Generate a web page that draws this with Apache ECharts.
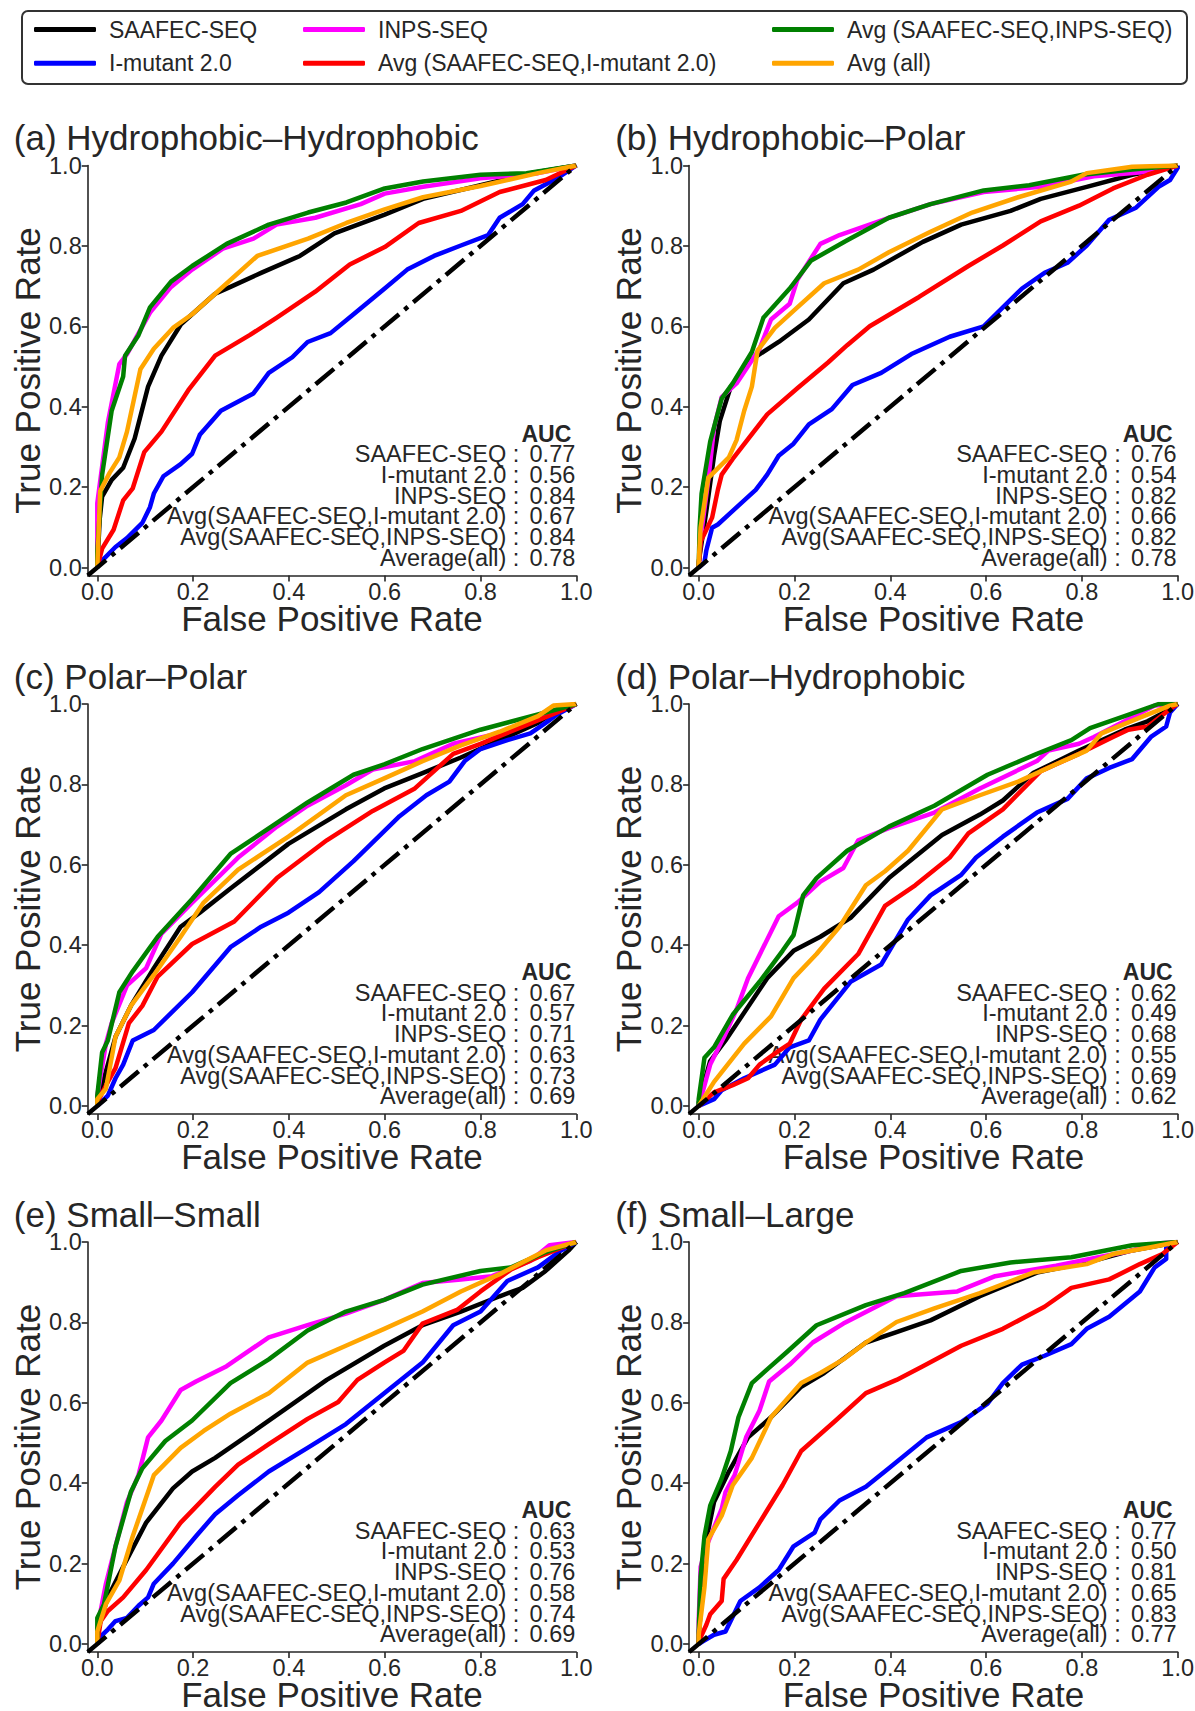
<!DOCTYPE html>
<html><head><meta charset="utf-8">
<script src="https://cdn.jsdelivr.net/npm/echarts@6/dist/echarts.min.js"></script>
<style>html,body{margin:0;padding:0;background:#fff}#c{width:1195px;height:1711px}</style>
</head><body><div id="c"></div>
<script>
// ---------- names / labels ----------
const seriesNames = ['SAAFEC-SEQ', 'I-mutant 2.0', 'INPS-SEQ', 'Avg (SAAFEC-SEQ,I-mutant 2.0)', 'Avg (SAAFEC-SEQ,INPS-SEQ)', 'Avg (all)'];
const seriesColors = ['#000000', '#0000ff', '#ff00ff', '#ff0000', '#008000', '#ffa500'];
const panelTitles = ['(a) Hydrophobic\u2013Hydrophobic', '(b) Hydrophobic\u2013Polar', '(c) Polar\u2013Polar', '(d) Polar\u2013Hydrophobic', '(e) Small\u2013Small', '(f) Small\u2013Large'];
const aucLabels = ['SAAFEC-SEQ', 'I-mutant 2.0', 'INPS-SEQ', 'Avg(SAAFEC-SEQ,I-mutant 2.0)', 'Avg(SAAFEC-SEQ,INPS-SEQ)', 'Average(all)'];
const aucA = ['0.77', '0.56', '0.84', '0.67', '0.84', '0.78'];
const aucB = ['0.76', '0.54', '0.82', '0.66', '0.82', '0.78'];
const aucC = ['0.67', '0.57', '0.71', '0.63', '0.73', '0.69'];
const aucD = ['0.62', '0.49', '0.68', '0.55', '0.69', '0.62'];
const aucE = ['0.63', '0.53', '0.76', '0.58', '0.74', '0.69'];
const aucF = ['0.77', '0.50', '0.81', '0.65', '0.83', '0.77'];
const tickValues = [0, 0.2, 0.4, 0.6, 0.8, 1.0];
const axisMin = -0.02, axisMax = 1.0;
const diagonal = [[-0.02, -0.02], [1, 1]];
const xAxisTitle = 'False Positive Rate';
const yAxisTitle = 'True Positive Rate';

// ---------- (a) Hydrophobic-Hydrophobic ----------
const a_saafec = [[0,0],[0.005,0.12],[0.01,0.176],[0.03,0.218],[0.054,0.248],[0.078,0.321],[0.106,0.45],[0.134,0.527],[0.174,0.604],[0.198,0.63],[0.246,0.681],[0.278,0.698],[0.342,0.733],[0.423,0.775],[0.495,0.831],[0.6,0.878],[0.68,0.917],[0.8,0.951],[0.904,0.981],[1,1]];
const a_imut = [[0,0],[0.01,0.017],[0.038,0.051],[0.062,0.073],[0.094,0.111],[0.11,0.15],[0.118,0.184],[0.138,0.227],[0.174,0.257],[0.198,0.283],[0.214,0.33],[0.258,0.39],[0.326,0.433],[0.358,0.484],[0.407,0.523],[0.439,0.561],[0.487,0.583],[0.535,0.63],[0.6,0.694],[0.647,0.741],[0.703,0.775],[0.759,0.801],[0.816,0.827],[0.84,0.87],[0.888,0.904],[0.912,0.938],[0.96,0.968],[1,1]];
const a_inps = [[0,0],[0,0.16],[0.022,0.36],[0.046,0.506],[0.062,0.531],[0.11,0.634],[0.154,0.698],[0.198,0.741],[0.262,0.793],[0.326,0.818],[0.374,0.853],[0.455,0.87],[0.55,0.904],[0.6,0.93],[0.68,0.947],[0.8,0.968],[0.92,0.981],[1,1]];
const a_avgSI = [[0,0],[0.01,0.047],[0.034,0.094],[0.054,0.167],[0.074,0.197],[0.098,0.287],[0.134,0.338],[0.19,0.441],[0.246,0.527],[0.318,0.578],[0.374,0.621],[0.455,0.686],[0.527,0.754],[0.6,0.797],[0.671,0.857],[0.759,0.887],[0.84,0.934],[0.936,0.964],[1,1]];
const a_avgSN = [[0,0],[0,0.04],[0.01,0.23],[0.03,0.39],[0.054,0.475],[0.058,0.527],[0.086,0.578],[0.11,0.647],[0.154,0.711],[0.198,0.75],[0.27,0.805],[0.358,0.853],[0.44,0.883],[0.52,0.908],[0.6,0.943],[0.68,0.96],[0.8,0.977],[0.896,0.981],[1,1]];
const a_avgAll = [[0,0],[0.006,0.19],[0.026,0.236],[0.046,0.274],[0.062,0.338],[0.09,0.493],[0.118,0.544],[0.158,0.596],[0.198,0.63],[0.246,0.681],[0.334,0.775],[0.44,0.818],[0.52,0.857],[0.6,0.891],[0.68,0.921],[0.8,0.949],[0.92,0.981],[1,1]];

// ---------- (b) Hydrophobic-Polar ----------
const b_saafec = [[0,0],[0,0.013],[0.016,0.141],[0.032,0.278],[0.044,0.364],[0.067,0.45],[0.111,0.518],[0.167,0.561],[0.23,0.617],[0.302,0.707],[0.365,0.741],[0.468,0.81],[0.548,0.853],[0.651,0.887],[0.714,0.917],[0.81,0.947],[0.905,0.977],[1,1]];
const b_imut = [[0,0],[0.012,0.013],[0.016,0.043],[0.028,0.099],[0.04,0.107],[0.071,0.141],[0.119,0.193],[0.143,0.231],[0.167,0.278],[0.198,0.308],[0.23,0.356],[0.278,0.394],[0.321,0.454],[0.381,0.484],[0.444,0.531],[0.524,0.574],[0.595,0.6],[0.635,0.647],[0.675,0.694],[0.722,0.733],[0.77,0.758],[0.81,0.801],[0.857,0.865],[0.913,0.895],[0.96,0.947],[0.984,0.964],[1,0.994],[1,1]];
const b_inps = [[0,0],[0.004,0.073],[0.02,0.218],[0.032,0.347],[0.048,0.424],[0.079,0.458],[0.127,0.544],[0.151,0.617],[0.19,0.656],[0.206,0.716],[0.254,0.805],[0.294,0.827],[0.397,0.87],[0.484,0.904],[0.595,0.934],[0.714,0.947],[0.825,0.973],[0.944,0.985],[1,1]];
const b_avgSI = [[0,0],[0.004,0.064],[0.028,0.124],[0.04,0.193],[0.048,0.231],[0.071,0.27],[0.143,0.381],[0.206,0.446],[0.27,0.51],[0.31,0.553],[0.357,0.6],[0.46,0.673],[0.563,0.75],[0.635,0.801],[0.714,0.861],[0.794,0.9],[0.865,0.943],[0.937,0.977],[1,1]];
const b_avgSN = [[0,0],[0.002,0.1],[0.006,0.184],[0.024,0.313],[0.048,0.42],[0.071,0.458],[0.111,0.536],[0.135,0.621],[0.19,0.694],[0.234,0.763],[0.31,0.814],[0.397,0.87],[0.484,0.904],[0.595,0.938],[0.69,0.951],[0.802,0.977],[0.905,0.99],[1,1]];
const b_avgAll = [[0,0],[0,0.013],[0.004,0.099],[0.02,0.223],[0.063,0.274],[0.079,0.317],[0.095,0.39],[0.111,0.45],[0.123,0.54],[0.159,0.596],[0.206,0.647],[0.262,0.707],[0.333,0.741],[0.397,0.784],[0.484,0.835],[0.571,0.883],[0.667,0.921],[0.778,0.96],[0.81,0.981],[0.905,0.997],[1,1]];

// ---------- (c) Polar-Polar ----------
const c_saafec = [[0,0],[0,0.017],[0.014,0.069],[0.038,0.172],[0.07,0.249],[0.118,0.343],[0.174,0.446],[0.214,0.481],[0.278,0.541],[0.399,0.652],[0.519,0.738],[0.599,0.79],[0.679,0.828],[0.759,0.867],[0.84,0.91],[0.92,0.953],[0.968,0.991],[1,1]];
const c_imut = [[0,0],[0.022,0.026],[0.038,0.069],[0.054,0.103],[0.074,0.163],[0.118,0.189],[0.198,0.283],[0.278,0.395],[0.342,0.446],[0.399,0.481],[0.463,0.532],[0.535,0.609],[0.631,0.721],[0.687,0.773],[0.735,0.807],[0.767,0.858],[0.8,0.888],[0.856,0.91],[0.904,0.927],[0.936,0.953],[0.96,0.974],[1,1]];
const c_inps = [[0,0],[0,0.026],[0.018,0.155],[0.03,0.206],[0.062,0.3],[0.102,0.343],[0.134,0.429],[0.198,0.506],[0.294,0.618],[0.375,0.695],[0.439,0.747],[0.519,0.798],[0.575,0.837],[0.663,0.858],[0.743,0.901],[0.824,0.923],[0.92,0.961],[1,1]];
const c_avgSI = [[0,0],[0,0.009],[0.022,0.06],[0.038,0.094],[0.066,0.206],[0.094,0.249],[0.126,0.322],[0.198,0.403],[0.286,0.459],[0.375,0.567],[0.479,0.661],[0.575,0.734],[0.663,0.79],[0.743,0.876],[0.8,0.901],[0.88,0.94],[0.96,0.979],[1,1]];
const c_avgSN = [[0,0],[0,0.026],[0.01,0.133],[0.022,0.163],[0.046,0.283],[0.074,0.335],[0.126,0.421],[0.198,0.515],[0.278,0.627],[0.375,0.704],[0.439,0.755],[0.535,0.824],[0.599,0.85],[0.679,0.888],[0.8,0.936],[0.92,0.974],[1,1]];
const c_avgAll = [[0,0],[0,0.017],[0.018,0.043],[0.038,0.172],[0.07,0.249],[0.118,0.326],[0.174,0.421],[0.222,0.506],[0.294,0.588],[0.399,0.67],[0.519,0.773],[0.599,0.815],[0.679,0.858],[0.759,0.897],[0.84,0.931],[0.92,0.97],[0.952,0.996],[1,1]];

// ---------- (d) Polar-Hydrophobic ----------
const d_saafec = [[0,0],[0,0.009],[0.024,0.112],[0.056,0.163],[0.143,0.318],[0.198,0.386],[0.254,0.421],[0.317,0.468],[0.397,0.567],[0.508,0.674],[0.587,0.725],[0.635,0.76],[0.698,0.828],[0.794,0.884],[0.889,0.936],[0.937,0.957],[0.984,0.987],[1,1]];
const d_imut = [[0,0],[0.032,0.017],[0.048,0.039],[0.095,0.069],[0.159,0.103],[0.19,0.146],[0.23,0.163],[0.254,0.215],[0.317,0.309],[0.381,0.352],[0.437,0.464],[0.484,0.524],[0.548,0.575],[0.579,0.618],[0.635,0.67],[0.706,0.73],[0.77,0.764],[0.81,0.815],[0.857,0.841],[0.905,0.863],[0.944,0.918],[0.976,0.944],[0.984,0.979],[1,1]];
const d_inps = [[0,0],[0.008,0.034],[0.024,0.103],[0.056,0.18],[0.079,0.24],[0.103,0.318],[0.167,0.472],[0.206,0.506],[0.254,0.558],[0.302,0.592],[0.333,0.661],[0.397,0.691],[0.492,0.73],[0.587,0.79],[0.706,0.858],[0.73,0.884],[0.794,0.901],[0.825,0.918],[0.889,0.957],[0.952,0.996],[1,1]];
const d_avgSI = [[0,0],[0.032,0.034],[0.071,0.052],[0.103,0.069],[0.127,0.103],[0.167,0.137],[0.19,0.155],[0.214,0.215],[0.262,0.292],[0.333,0.378],[0.389,0.498],[0.452,0.549],[0.524,0.618],[0.563,0.678],[0.635,0.738],[0.714,0.833],[0.794,0.876],[0.865,0.918],[0.897,0.936],[0.937,0.944],[0.984,0.987],[1,1]];
const d_avgSN = [[0,0],[0,0.017],[0.012,0.12],[0.032,0.146],[0.071,0.227],[0.127,0.309],[0.175,0.386],[0.198,0.425],[0.218,0.524],[0.246,0.567],[0.31,0.635],[0.397,0.695],[0.492,0.747],[0.603,0.824],[0.706,0.876],[0.778,0.91],[0.817,0.94],[0.889,0.97],[0.96,1],[1,1]];
const d_avgAll = [[0,0],[0.032,0.06],[0.095,0.155],[0.151,0.223],[0.198,0.318],[0.246,0.378],[0.294,0.446],[0.349,0.549],[0.389,0.584],[0.437,0.635],[0.508,0.738],[0.587,0.773],[0.667,0.807],[0.746,0.85],[0.81,0.884],[0.841,0.927],[0.921,0.966],[0.984,0.996],[1,1]];

// ---------- (e) Small-Small ----------
const e_saafec = [[0,0],[0,0.031],[0.022,0.116],[0.054,0.192],[0.102,0.302],[0.158,0.387],[0.198,0.429],[0.246,0.463],[0.318,0.522],[0.399,0.59],[0.479,0.657],[0.599,0.742],[0.679,0.793],[0.759,0.827],[0.84,0.865],[0.888,0.886],[0.936,0.928],[0.984,0.979],[1,1]];
const e_imut = [[0,0],[0.007,0.019],[0.022,0.036],[0.038,0.057],[0.062,0.065],[0.086,0.095],[0.106,0.116],[0.118,0.15],[0.158,0.2],[0.206,0.268],[0.246,0.323],[0.294,0.37],[0.358,0.429],[0.439,0.488],[0.519,0.547],[0.599,0.624],[0.679,0.7],[0.743,0.793],[0.8,0.827],[0.856,0.903],[0.92,0.937],[0.968,0.979],[1,1]];
const e_inps = [[0,0],[0,0.04],[0.018,0.15],[0.038,0.243],[0.062,0.353],[0.086,0.42],[0.106,0.514],[0.134,0.556],[0.174,0.632],[0.206,0.653],[0.27,0.691],[0.358,0.763],[0.439,0.793],[0.519,0.822],[0.599,0.856],[0.679,0.898],[0.759,0.907],[0.824,0.915],[0.904,0.953],[0.944,0.992],[1,1]];
const e_avgSI = [[0,0],[0.007,0.057],[0.022,0.082],[0.054,0.116],[0.102,0.184],[0.174,0.302],[0.246,0.391],[0.294,0.446],[0.358,0.497],[0.439,0.56],[0.503,0.602],[0.543,0.657],[0.599,0.7],[0.639,0.729],[0.679,0.797],[0.751,0.831],[0.8,0.877],[0.864,0.932],[0.92,0.962],[1,1]];
const e_avgSN = [[0,0],[0,0.065],[0.014,0.099],[0.038,0.243],[0.07,0.378],[0.094,0.437],[0.142,0.505],[0.198,0.556],[0.278,0.649],[0.358,0.708],[0.439,0.78],[0.519,0.827],[0.599,0.856],[0.679,0.894],[0.8,0.928],[0.864,0.937],[0.936,0.975],[1,1]];
const e_avgAll = [[0,0],[0,0.031],[0.018,0.099],[0.046,0.158],[0.074,0.268],[0.118,0.42],[0.174,0.488],[0.222,0.53],[0.278,0.573],[0.358,0.624],[0.439,0.7],[0.519,0.742],[0.599,0.784],[0.679,0.827],[0.759,0.877],[0.84,0.92],[0.936,0.979],[1,1]];

// ---------- (f) Small-Large ----------
const f_saafec = [[0,0],[0,0.023],[0.008,0.133],[0.016,0.26],[0.032,0.353],[0.063,0.429],[0.103,0.514],[0.151,0.564],[0.214,0.64],[0.262,0.674],[0.349,0.75],[0.413,0.776],[0.484,0.805],[0.587,0.865],[0.706,0.924],[0.81,0.949],[0.905,0.979],[1,1]];
const f_imut = [[0,0],[0.008,0.006],[0.032,0.023],[0.056,0.031],[0.087,0.107],[0.127,0.141],[0.167,0.184],[0.198,0.243],[0.242,0.277],[0.254,0.31],[0.294,0.357],[0.349,0.391],[0.397,0.437],[0.476,0.514],[0.548,0.552],[0.603,0.598],[0.635,0.649],[0.675,0.695],[0.722,0.717],[0.778,0.746],[0.81,0.784],[0.857,0.814],[0.921,0.877],[0.952,0.937],[0.976,0.958],[0.976,0.987],[1,1]];
const f_inps = [[0,0],[0,0.057],[0.004,0.192],[0.016,0.243],[0.048,0.336],[0.056,0.378],[0.075,0.42],[0.099,0.514],[0.127,0.581],[0.147,0.653],[0.19,0.695],[0.238,0.75],[0.302,0.797],[0.413,0.865],[0.54,0.877],[0.619,0.915],[0.746,0.941],[0.905,0.979],[0.96,0.996],[1,1]];
const f_avgSI = [[0,0],[0,0.006],[0.016,0.048],[0.024,0.074],[0.048,0.107],[0.052,0.162],[0.079,0.209],[0.127,0.302],[0.175,0.395],[0.214,0.48],[0.286,0.556],[0.349,0.624],[0.413,0.657],[0.468,0.691],[0.548,0.742],[0.635,0.784],[0.722,0.839],[0.778,0.886],[0.857,0.907],[0.921,0.945],[0.968,0.97],[1,1]];
const f_avgSN = [[0,0],[0,0.031],[0.004,0.167],[0.012,0.268],[0.024,0.344],[0.048,0.412],[0.067,0.48],[0.083,0.564],[0.111,0.649],[0.143,0.683],[0.183,0.725],[0.246,0.793],[0.349,0.843],[0.429,0.873],[0.548,0.928],[0.651,0.949],[0.778,0.962],[0.905,0.992],[1,1]];
const f_avgAll = [[0,0],[0,0.023],[0.012,0.141],[0.02,0.26],[0.048,0.319],[0.071,0.395],[0.111,0.463],[0.151,0.564],[0.214,0.649],[0.254,0.674],[0.302,0.708],[0.349,0.75],[0.413,0.801],[0.492,0.835],[0.587,0.873],[0.698,0.924],[0.81,0.945],[0.865,0.97],[0.944,0.987],[1,1]];

// ---------- assembly ----------
const panels = [
  {title: panelTitles[0], auc: aucA, curves: [a_saafec, a_imut, a_inps, a_avgSI, a_avgSN, a_avgAll]},
  {title: panelTitles[1], auc: aucB, curves: [b_saafec, b_imut, b_inps, b_avgSI, b_avgSN, b_avgAll]},
  {title: panelTitles[2], auc: aucC, curves: [c_saafec, c_imut, c_inps, c_avgSI, c_avgSN, c_avgAll]},
  {title: panelTitles[3], auc: aucD, curves: [d_saafec, d_imut, d_inps, d_avgSI, d_avgSN, d_avgAll]},
  {title: panelTitles[4], auc: aucE, curves: [e_saafec, e_imut, e_inps, e_avgSI, e_avgSN, e_avgAll]},
  {title: panelTitles[5], auc: aucF, curves: [f_saafec, f_imut, f_inps, f_avgSI, f_avgSN, f_avgAll]}
];

const FONT = 'Liberation Sans, Arial, Helvetica, sans-serif';
const TXT = '#262626';
const L = {unitX: 479, unitY: 402, colX0: [97.3, 698.7], rowY1: [165.5, 704, 1242]};

const grids = [], xAxes = [], yAxes = [], series = [], graphics = [];

function axisCommon() {
  return {
    type: 'value', min: axisMin, max: axisMax,
    splitLine: {show: false},
    axisLine: {show: true, onZero: false, lineStyle: {color: TXT, width: 1.6}},
    axisTick: {show: true, inside: false, length: 6, customValues: tickValues, lineStyle: {color: TXT, width: 1.6}},
    axisLabel: {customValues: tickValues, formatter: v => Number(v).toFixed(1), fontSize: 23.5, color: TXT, fontFamily: FONT},
    nameLocation: 'middle',
    nameMoveOverlap: false,
    nameTextStyle: {fontSize: 35, color: TXT, fontFamily: FONT}
  };
}

panels.forEach((p, i) => {
  const col = i % 2, row = Math.floor(i / 2);
  const x0 = L.colX0[col], y1 = L.rowY1[row], y0 = y1 + L.unitY;
  grids.push({
    left: x0 - 0.02 * L.unitX, top: y1,
    width: 1.02 * L.unitX, height: 1.02 * L.unitY,
    containLabel: false, outerBoundsMode: 'none'
  });
  const xa = axisCommon();
  xa.gridIndex = i; xa.name = xAxisTitle; xa.nameGap = 25;
  xa.axisLabel.margin = 4;
  xAxes.push(xa);
  const ya = axisCommon();
  ya.gridIndex = i; ya.name = yAxisTitle; ya.nameGap = 43;
  ya.axisLabel.margin = 6;
  yAxes.push(ya);

  p.curves.forEach((data, k) => {
    series.push({
      name: seriesNames[k], type: 'line', xAxisIndex: i, yAxisIndex: i,
      data: data, showSymbol: false, symbol: 'none', animation: false, silent: true,
      color: seriesColors[k],
      lineStyle: {color: seriesColors[k], width: 4.5, join: 'round', cap: 'butt'},
      z: 2 + k
    });
  });
  series.push({
    type: 'line', xAxisIndex: i, yAxisIndex: i, data: diagonal,
    showSymbol: false, symbol: 'none', animation: false, silent: true,
    lineStyle: {color: '#000', width: 4.5, type: [24, 7, 4.5, 7]}, z: 10
  });

  // panel title
  graphics.push({type: 'text', x: x0 - 83.5, y: y1 - 28, silent: true,
    style: {text: p.title, fontSize: 35, fontFamily: FONT, fill: TXT, verticalAlign: 'middle', align: 'left'}});
  // AUC block: header, label column (ending with ':') and value column
  const right = x0 + 478;
  const lineH = 20.7;
  graphics.push({type: 'text', x: right - 4, y: y0 - 9.8 - lineH * 6, silent: true,
    style: {text: 'AUC', fontSize: 23, fontWeight: 'bold', fontFamily: FONT, fill: TXT, verticalAlign: 'middle', align: 'right'}});
  aucLabels.forEach((lab, k) => {
    const yy = y0 - 9.8 - lineH * (5 - k);
    graphics.push({type: 'text', x: right - 56, y: yy, silent: true,
      style: {text: lab + '\u00a0:', fontSize: 23.5, fontFamily: FONT, fill: TXT, verticalAlign: 'middle', align: 'right'}});
    graphics.push({type: 'text', x: right, y: yy, silent: true,
      style: {text: p.auc[k], fontSize: 23.5, fontFamily: FONT, fill: TXT, verticalAlign: 'middle', align: 'right'}});
  });
});

// legend frame
graphics.push({type: 'rect', shape: {x: 22, y: 11, width: 1165, height: 73, r: 6}, silent: true,
  style: {fill: 'none', stroke: '#333', lineWidth: 2}, z: -1});

function legendCol(left, names) {
  return {
    show: true, orient: 'vertical', left: left, top: 18, itemGap: 10.8,
    data: names, icon: 'roundRect', itemWidth: 62, itemHeight: 5,
    selectedMode: false, padding: 0,
    textStyle: {fontSize: 23, color: TXT, fontFamily: FONT, padding: [0, 0, 0, 8]}
  };
}

const option = {
  backgroundColor: '#ffffff',
  animation: false,
  legend: [
    legendCol(34, [seriesNames[0], seriesNames[1]]),
    legendCol(303, [seriesNames[2], seriesNames[3]]),
    legendCol(772, [seriesNames[4], seriesNames[5]])
  ],
  grid: grids, xAxis: xAxes, yAxis: yAxes, series: series,
  graphic: graphics
};

const chart = echarts.init(document.getElementById('c'), null, {renderer: 'svg', width: 1195, height: 1711});
chart.setOption(option);
</script>
</body></html>
